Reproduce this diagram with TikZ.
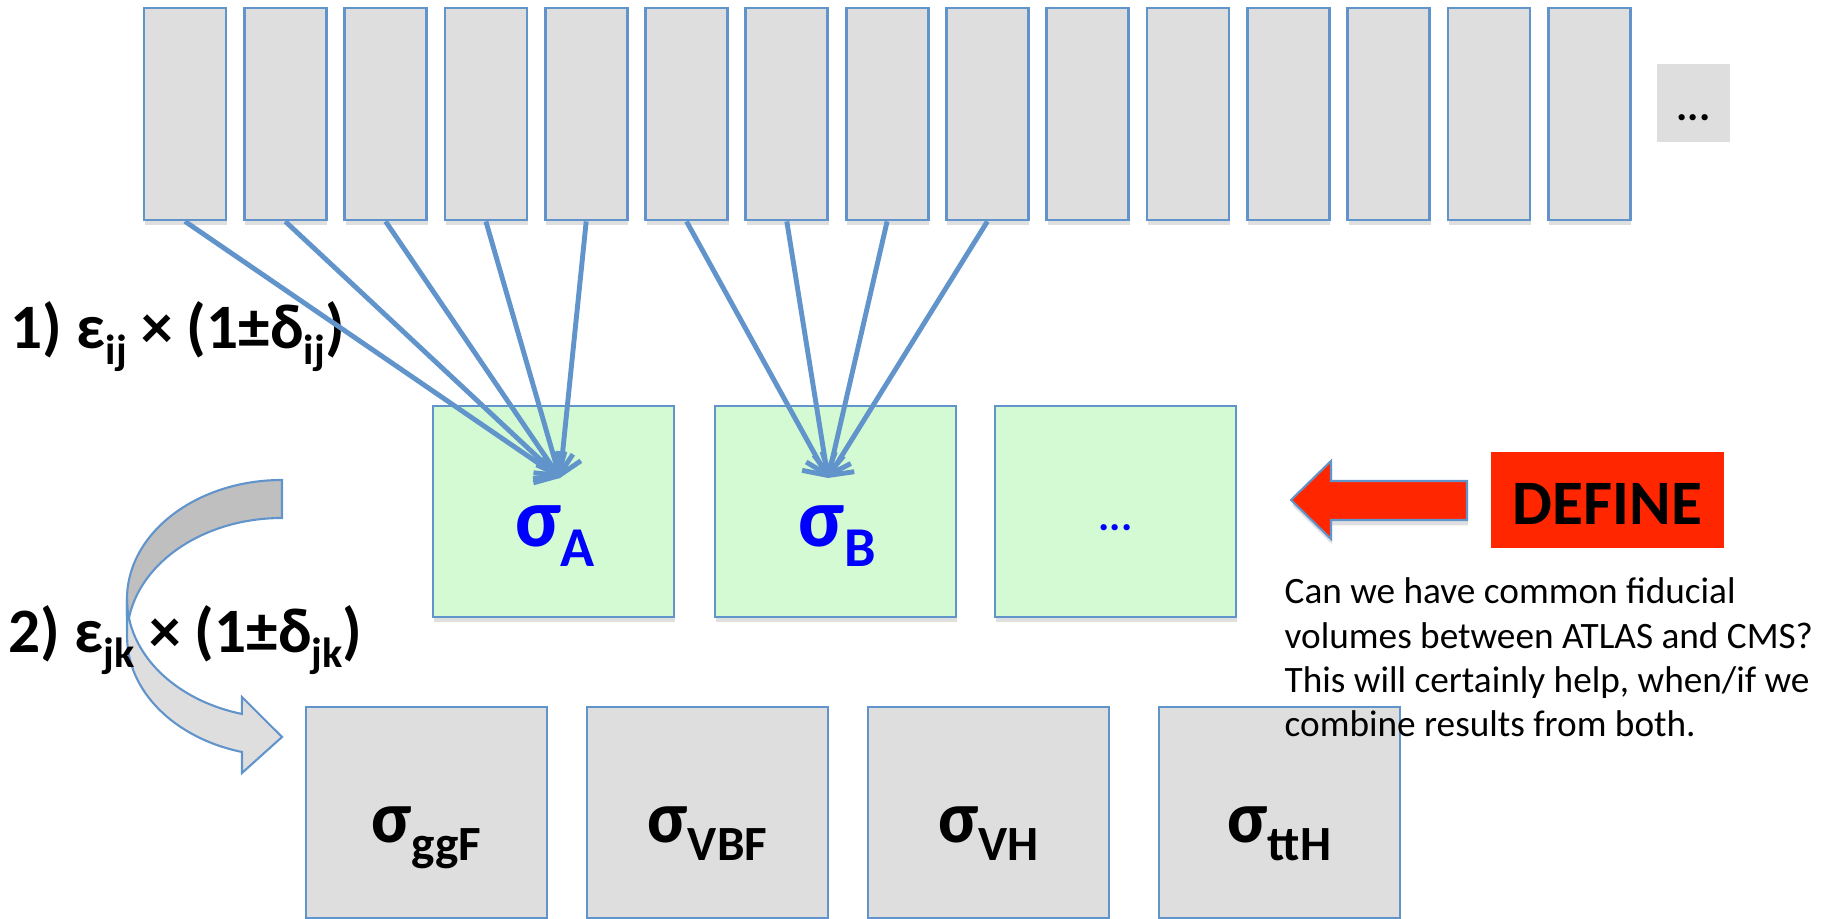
\documentclass[tikz,border=0pt]{standalone}
\usepackage{fontspec}
\setmainfont{Carlito}
\usetikzlibrary{arrows.meta,shadows}

\definecolor{edgeblue}{RGB}{98,148,204}
\definecolor{boxgray}{RGB}{222,222,222}
\definecolor{darkgray}{RGB}{191,191,191}
\definecolor{sigmagreen}{RGB}{212,250,212}
\definecolor{definered}{RGB}{255,38,0}
\definecolor{sigmablue}{RGB}{0,0,255}

% lowered, smaller text for the subscripts
\newcommand{\sublbl}[3]{\raisebox{-#1}{\fontsize{#2}{#2}\selectfont #3}}

\tikzset{
    boxshadow/.style={drop shadow={shadow xshift=0.3pt, shadow yshift=-1.5pt, opacity=0.25}},
    topbox/.style={draw=edgeblue, fill=boxgray, line width=0.8pt, inner sep=0,
                   minimum width=0.82cm, minimum height=2.12cm, boxshadow},
    greenbox/.style={draw=edgeblue, fill=sigmagreen, line width=0.8pt, inner sep=0,
                     minimum width=2.41cm, minimum height=2.11cm, boxshadow},
    prodbox/.style={draw=edgeblue, fill=boxgray, line width=0.8pt, inner sep=0,
                    minimum width=2.41cm, minimum height=2.11cm, boxshadow},
    conn/.style={draw=edgeblue, line width=1.4pt,
                 -{Straight Barb[length=1.6mm,width=3.8mm]}},
    steplbl/.style={inner sep=0, font=\fontsize{18}{20}\selectfont\bfseries},
    siglbl/.style={inner sep=0, font=\fontsize{24}{26}\selectfont\bfseries, text=sigmablue},
    prodlbl/.style={inner sep=0, font=\fontsize{21}{23}\selectfont\bfseries},
    dotlbl/.style={inner sep=0, font=\fontsize{12}{14}\selectfont\bfseries},
}

\begin{document}
\begin{tikzpicture}
    \useasboundingbox (0,0) rectangle (18.33,-9.19);

    % top row of bins
    \foreach \i in {1,...,15}
        \node[topbox] (t\i) at ({1.85+(\i-1)*1.003}, -1.14) {};
    \node[fill=boxgray, minimum width=0.73cm, minimum height=0.78cm] (more) at (16.935,-1.03) {};
    \node[dotlbl, anchor=base] (moredots) at ([yshift=-0.18cm]more.center) {...};

    % fiducial cross sections
    \node[greenbox] (A) at (5.535,-5.115) {};
    \node[greenbox] (B) at (8.355,-5.115) {};
    \node[greenbox] (C) at (11.155,-5.115) {};
    \node[siglbl, anchor=base] (sA) at ([xshift=0.015cm,yshift=-0.355cm]A.center) {σ\sublbl{0.2cm}{16}{A}};
    \node[siglbl, anchor=base] (sB) at ([xshift=0.015cm,yshift=-0.355cm]B.center) {σ\sublbl{0.2cm}{16}{B}};
    \node[dotlbl, anchor=base, text=sigmablue] (sC) at ([yshift=-0.195cm]C.center) {...};

    % production modes
    \node[prodbox] (ggF) at (4.265,-8.125) {};
    \node[prodbox] (VBF) at (7.075,-8.125) {};
    \node[prodbox] (VH)  at (9.885,-8.125) {};
    \node[prodbox] (ttH) at (12.795,-8.125) {};
    \node[prodlbl, anchor=base] (sggF) at ([yshift=-0.305cm]ggF.center) {σ\sublbl{0.18cm}{14}{ggF}};
    \node[prodlbl, anchor=base] (sVBF) at ([yshift=-0.305cm]VBF.center) {σ\sublbl{0.18cm}{14}{VBF}};
    \node[prodlbl, anchor=base] (sVH)  at ([yshift=-0.305cm]VH.center)  {σ\sublbl{0.18cm}{14}{VH}};
    \node[prodlbl, anchor=base] (sttH) at ([yshift=-0.305cm]ttH.center) {σ\sublbl{0.18cm}{14}{ttH}};

    % curved arrow, back then front
    \draw[edgeblue, fill=darkgray, line width=0.6pt]
        (2.82,-4.80) arc[start angle=90, end angle=180, x radius=1.55, y radius=1.19]
        -- (1.27,-6.37) arc[start angle=180, end angle=90, x radius=1.55, y radius=1.19] -- cycle;
    \draw[edgeblue, fill=boxgray, line width=0.6pt]
        (1.27,-5.99) arc[start angle=180, end angle=255, x radius=1.55, y radius=1.19]
        -- (2.42,-6.97) -- (2.82,-7.37) -- (2.42,-7.73) -- (2.42,-7.52)
        arc[start angle=255, end angle=180, x radius=1.55, y radius=1.19] -- cycle;

    \node[steplbl, anchor=base west] (step1) at (0.10,-3.49) {1) ε\sublbl{0.16cm}{12}{ij} × (1±δ\sublbl{0.16cm}{12}{ij})};
    \node[steplbl, anchor=base west] (step2) at (0.08,-6.53) {2) ε\sublbl{0.15cm}{12}{jk} × (1±δ\sublbl{0.15cm}{12}{jk})};

    % efficiencies into the fiducial volumes
    \coordinate (tipA) at (5.60,-4.78);
    \coordinate (tipB) at (8.28,-4.78);
    \foreach \i in {1,...,5}
        \draw[conn] (t\i.south) -- (tipA);
    \foreach \i in {6,...,9}
        \draw[conn] (t\i.south) -- (tipB);

    % define arrow
    \draw[edgeblue, fill=definered, line width=0.6pt, boxshadow]
        (12.91,-5.00) -- (13.31,-4.61) -- (13.31,-4.81) -- (14.67,-4.81)
        -- (14.67,-5.20) -- (13.31,-5.20) -- (13.31,-5.39) -- cycle;
    \node[fill=definered, minimum width=2.33cm, minimum height=0.96cm, inner sep=0,
          font=\fontsize{18}{20}\selectfont\bfseries] (define) at (16.075,-5.00) {};
    \node[inner sep=0, anchor=base, font=\fontsize{18}{20}\selectfont\bfseries] (definetxt)
        at ([yshift=-0.25cm]define.center) {DEFINE};

    \node[anchor=base west, align=left, inner sep=0, font=\fontsize{10.6}{12.66}\selectfont] (question)
        at (12.84,-7.37) {Can we have common fiducial\\volumes between ATLAS and CMS?\\This will certainly help, when/if we\\combine results from both.};
\end{tikzpicture}
\end{document}
